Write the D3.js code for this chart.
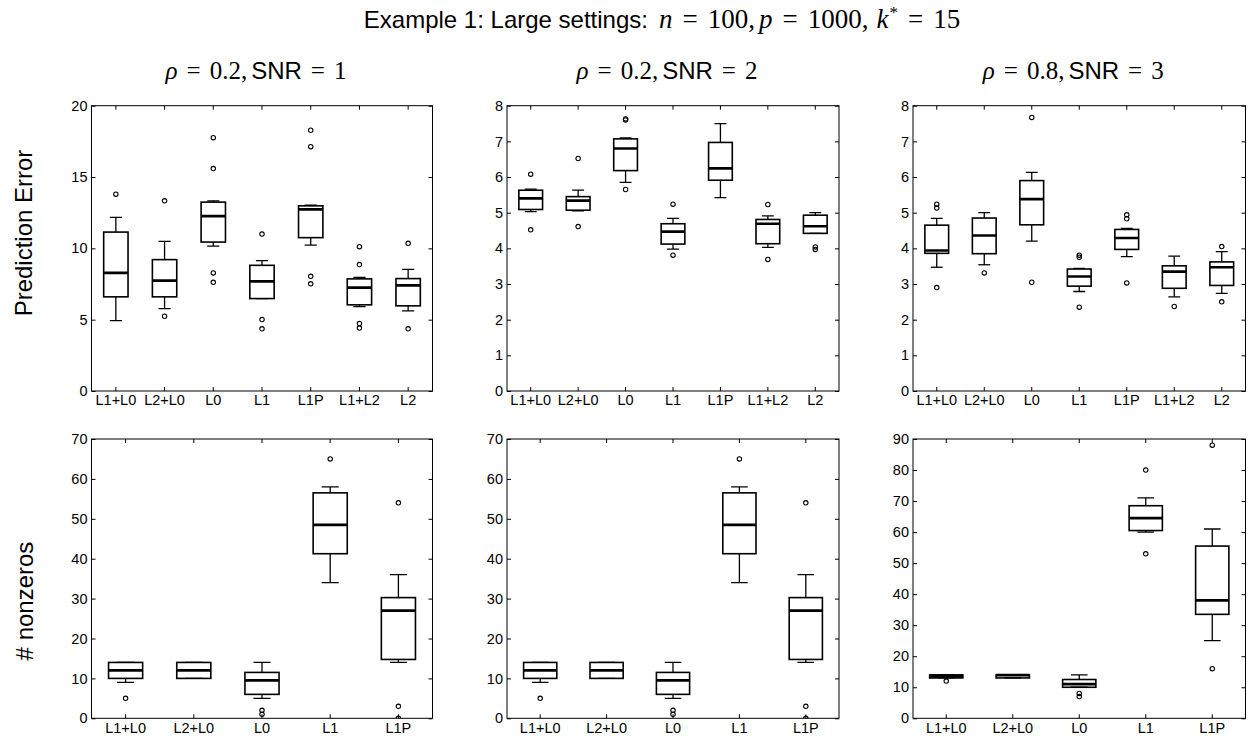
<!DOCTYPE html>
<html>
<head>
<meta charset="utf-8">
<script src="https://cdn.jsdelivr.net/npm/d3@7"></script>
<style>
  body { margin: 0; background: #fff; }
  .tick text { font-family: "Liberation Sans", sans-serif; font-size: 14.5px; fill: #000; }
  .sans { font-family: "Liberation Sans", sans-serif; }
  .serif { font-family: "Liberation Serif", serif; }
</style>
</head>
<body>
<div class="svg-container"></div>
<script>
//Categories
const methodsTop = ["L1+L0", "L2+L0", "L0", "L1", "L1P", "L1+L2", "L2"];
const methodsBottom = ["L1+L0", "L2+L0", "L0", "L1", "L1P"];

// box stats per method: [whisker low, q1, median, q3, whisker high]
const predErrSnr1 = [
  [4.94, 6.6, 8.28, 11.14, 12.17],
  [5.78, 6.6, 7.74, 9.21, 10.49],
  [10.16, 10.44, 12.26, 13.24, 13.33],
  [6.48, 6.48, 7.69, 8.81, 9.14],
  [10.23, 10.75, 12.73, 12.98, 13.03],
  [5.92, 6.04, 7.25, 7.86, 7.97],
  [5.62, 5.97, 7.41, 7.88, 8.53]
];
const predErrSnr1Out = [[13.8], [13.33, 5.24], [17.76, 15.59, 8.28, 7.62], [11.0, 5.01, 4.36],
  [18.28, 17.13, 8.04, 7.51], [10.12, 8.86, 4.73, 4.41], [10.35, 4.36]];

const predErrSnr2 = [
  [5.03, 5.09, 5.40, 5.63, 5.66],
  [5.05, 5.07, 5.34, 5.45, 5.63],
  [5.85, 6.18, 6.80, 7.07, 7.10],
  [3.98, 4.12, 4.47, 4.69, 4.84],
  [5.42, 5.91, 6.24, 6.97, 7.50],
  [4.03, 4.13, 4.69, 4.81, 4.91],
  [4.42, 4.42, 4.62, 4.93, 5.0]
];
const predErrSnr2Out = [[6.08, 4.52], [6.52, 4.61], [7.63, 7.60, 5.65], [5.24, 3.81], [],
  [5.23, 3.69], [4.04, 3.97]];

const predErrSnr3 = [
  [3.47, 3.86, 3.94, 4.65, 4.84],
  [3.54, 3.85, 4.36, 4.85, 5.0],
  [4.20, 4.66, 5.38, 5.90, 6.13],
  [2.79, 2.94, 3.21, 3.42, 3.44],
  [3.77, 3.97, 4.29, 4.53, 4.56],
  [2.64, 2.88, 3.35, 3.51, 3.78],
  [2.74, 2.96, 3.47, 3.62, 3.91]
];
const predErrSnr3Out = [[5.24, 5.13, 2.90], [3.31], [7.67, 3.05], [3.81, 3.75, 2.35],
  [4.94, 4.83, 3.03], [2.37], [4.05, 2.50]];

const nnzSnr1 = [
  [9, 10, 12, 14, 14],
  [10, 10, 12, 14, 14],
  [5, 6, 9.5, 11.5, 14],
  [34, 41.25, 48.5, 56.5, 58],
  [14, 14.75, 27, 30.25, 36]
];
const nnzSnr1Out = [[5], [], [2, 1], [65], [54, 3, 0]];

const nnzSnr2 = [
  [9, 10, 12, 14, 14],
  [10, 10, 12, 14, 14],
  [5, 6, 9.5, 11.5, 14],
  [34, 41.25, 48.5, 56.5, 58],
  [14, 14.75, 27, 30.25, 36]
];
const nnzSnr2Out = [[5], [], [2, 1], [65], [54, 3, 0]];

const nnzSnr3 = [
  [13, 13, 13.5, 14, 14],
  [13, 13, 13.9, 14, 14],
  [10, 10, 11, 12.5, 14],
  [60, 60.5, 64.5, 68.5, 71],
  [25, 33.5, 38, 55.5, 61]
];
const nnzSnr3Out = [[12], [], [8, 7], [80, 53], [88, 16]];

//Tick labels
const yTicksPE1 = [0, 5, 10, 15, 20];
const yTicksPE = [0, 1, 2, 3, 4, 5, 6, 7, 8];
const yTicksNnz = [0, 10, 20, 30, 40, 50, 60, 70];
const yTicksNnz3 = [0, 10, 20, 30, 40, 50, 60, 70, 80, 90];

const subtitleRho = ["0.2", "0.2", "0.8"];
const subtitleSnr = ["1", "2", "3"];

////////////////////////////////////////////////////////
const W = 1254, H = 739;
const cols = [{left: 91.5, right: 432.5}, {left: 507, right: 839}, {left: 913, right: 1245.5}];
const rows = [{top: 105.7, bottom: 391}, {top: 439, bottom: 718.3}];

const svg = d3.select('.svg-container')
  .append('svg')
  .attr('width', W)
  .attr('height', H);

let clipId = 0;

function drawPanel(col, row, cats, stats, outliers, yMax, yTicks) {
  const width = col.right - col.left;
  const height = row.bottom - row.top;
  const g = svg.append('g').attr('transform', `translate(${col.left},${row.top})`);

  const x = d3.scaleBand().domain(cats).range([0, width]).padding(0);
  const y = d3.scaleLinear().domain([0, yMax]).range([height, 0]);
  const bw = x.bandwidth() * 0.5;
  const cw = x.bandwidth() * 0.25;

  const id = 'clip' + (clipId++);
  g.append('clipPath').attr('id', id)
    .append('rect').attr('width', width).attr('height', height);

  const plot = g.append('g').attr('clip-path', `url(#${id})`);

  const box = plot.selectAll('.box')
    .data(stats.map((s, i) => ({name: cats[i], s: s, out: outliers[i]})))
    .enter().append('g')
    .attr('class', 'box')
    .attr('transform', d => `translate(${x(d.name) + x.bandwidth() / 2},0)`);

  // whiskers
  box.append('line')
    .attr('y1', d => y(d.s[0])).attr('y2', d => y(d.s[1]))
    .attr('stroke', '#000').attr('stroke-width', 1.3);
  box.append('line')
    .attr('y1', d => y(d.s[3])).attr('y2', d => y(d.s[4]))
    .attr('stroke', '#000').attr('stroke-width', 1.3);
  // caps
  box.append('line')
    .attr('x1', -cw / 2).attr('x2', cw / 2)
    .attr('y1', d => y(d.s[0])).attr('y2', d => y(d.s[0]))
    .attr('stroke', '#000').attr('stroke-width', 1.3);
  box.append('line')
    .attr('x1', -cw / 2).attr('x2', cw / 2)
    .attr('y1', d => y(d.s[4])).attr('y2', d => y(d.s[4]))
    .attr('stroke', '#000').attr('stroke-width', 1.3);
  // box
  box.append('rect')
    .attr('x', -bw / 2).attr('width', bw)
    .attr('y', d => y(d.s[3]))
    .attr('height', d => y(d.s[1]) - y(d.s[3]))
    .attr('fill', 'none').attr('stroke', '#000').attr('stroke-width', 1.6);
  // median
  box.append('line')
    .attr('x1', -bw / 2).attr('x2', bw / 2)
    .attr('y1', d => y(d.s[2])).attr('y2', d => y(d.s[2]))
    .attr('stroke', '#000').attr('stroke-width', 2.7);
  // fliers
  box.selectAll('circle')
    .data(d => d.out)
    .enter().append('circle')
    .attr('r', 2.2)
    .attr('cy', d => y(d))
    .attr('fill', 'none').attr('stroke', '#000').attr('stroke-width', 1.1);

  // axes, ticks pointing inward on all four sides
  g.append('g')
    .call(d3.axisLeft(y).tickValues(yTicks).tickSizeInner(-4).tickSizeOuter(0).tickPadding(4))
    .call(a => a.select('.domain').remove());
  g.append('g')
    .attr('transform', `translate(${width},0)`)
    .call(d3.axisRight(y).tickValues(yTicks).tickSizeInner(-4).tickSizeOuter(0).tickFormat(''))
    .call(a => a.select('.domain').remove());
  g.append('g')
    .attr('transform', `translate(0,${height})`)
    .call(d3.axisBottom(x).tickSizeInner(-4).tickSizeOuter(0).tickPadding(4))
    .call(a => a.select('.domain').remove());
  g.append('g')
    .call(d3.axisTop(x).tickSizeInner(-4).tickSizeOuter(0).tickFormat(''))
    .call(a => a.select('.domain').remove());

  g.append('rect')
    .attr('width', width).attr('height', height)
    .attr('fill', 'none').attr('stroke', '#000').attr('stroke-width', 1);
}

drawPanel(cols[0], rows[0], methodsTop, predErrSnr1, predErrSnr1Out, 20, yTicksPE1);
drawPanel(cols[1], rows[0], methodsTop, predErrSnr2, predErrSnr2Out, 8, yTicksPE);
drawPanel(cols[2], rows[0], methodsTop, predErrSnr3, predErrSnr3Out, 8, yTicksPE);
drawPanel(cols[0], rows[1], methodsBottom, nnzSnr1, nnzSnr1Out, 70, yTicksNnz);
drawPanel(cols[1], rows[1], methodsBottom, nnzSnr2, nnzSnr2Out, 70, yTicksNnz);
drawPanel(cols[2], rows[1], methodsBottom, nnzSnr3, nnzSnr3Out, 90, yTicksNnz3);

// pieces: [text, kind, size, dx, dy]   kind: s = sans, r = serif, i = serif italic
function mathText(parent, pieces) {
  pieces.forEach(p => {
    const t = parent.append('tspan')
      .attr('class', p[1] === 's' ? 'sans' : 'serif')
      .attr('font-size', p[2])
      .text(p[0]);
    if (p[1] === 'i') t.attr('font-style', 'italic');
    if (p[3]) t.attr('dx', p[3]);
    if (p[4]) t.attr('dy', p[4]);
  });
}

//Title
const gap = 10;
const title = svg.append('text')
  .attr('x', 662).attr('y', 28)
  .attr('text-anchor', 'middle');
mathText(title, [
  ['Example 1: Large settings:', 's', 24],
  ['n', 'i', 27, 11],
  ['=', 'r', 27, gap],
  ['100,', 'r', 27, gap],
  ['p', 'i', 27, 4],
  ['=', 'r', 27, gap],
  ['1000,', 'r', 27, gap],
  ['k', 'i', 27, 8],
  ['*', 'r', 17, 1, -10],
  ['=', 'r', 27, gap, 10],
  ['15', 'r', 27, gap]
]);

//Subtitles
subtitleRho.forEach((rho, i) => {
  const cx = (cols[i].left + cols[i].right) / 2 - 6;
  const t = svg.append('text').attr('x', cx).attr('y', 79).attr('text-anchor', 'middle');
  mathText(t, [
    ['\u03C1', 'i', 25],
    ['=', 'r', 25, 9],
    [rho + ',', 'r', 25, 9],
    ['SNR', 's', 24, 4],
    ['=', 'r', 25, 9],
    [subtitleSnr[i], 'r', 25, 9]
  ]);
});

//Row labels
svg.append('text')
  .attr('class', 'sans').attr('font-size', 24)
  .attr('text-anchor', 'middle')
  .attr('transform', 'translate(32,233) rotate(-90)')
  .text('Prediction Error');
svg.append('text')
  .attr('class', 'sans').attr('font-size', 24)
  .attr('text-anchor', 'middle')
  .attr('transform', 'translate(33,601) rotate(-90)')
  .text('# nonzeros');
</script>
</body>
</html>
